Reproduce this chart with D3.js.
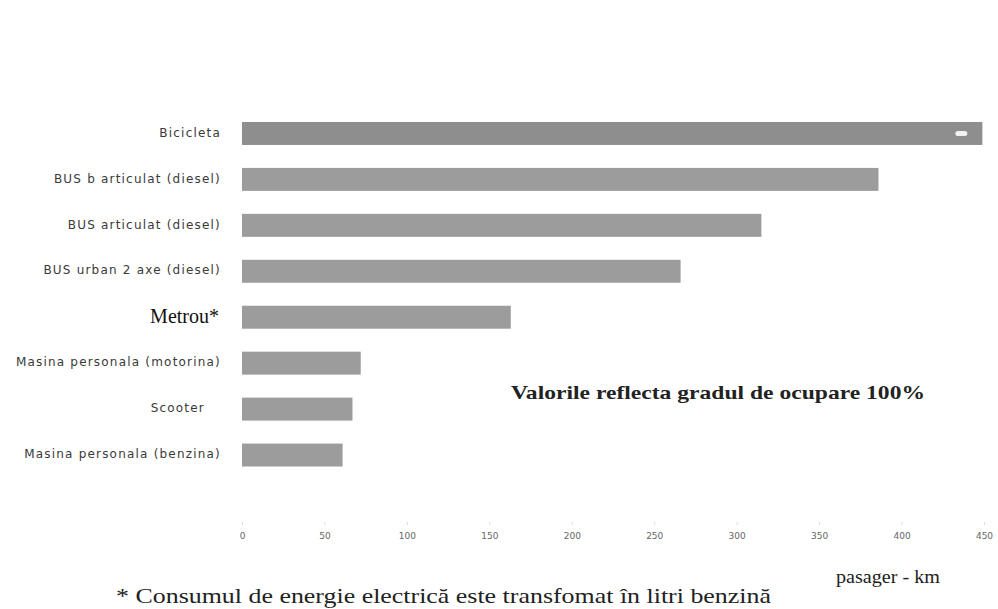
<!DOCTYPE html>
<html>
<head>
<meta charset="utf-8">
<script src="https://cdn.jsdelivr.net/npm/d3@7/dist/d3.min.js"></script>
<style>
  html, body { margin: 0; padding: 0; background: #fff; }
  svg { display: block; }
</style>
</head>
<body>
<svg id="chart" width="998" height="609"></svg>
<script>
// Energy per passenger-km by transport mode
const categories = [
  "Bicicleta",
  "BUS b articulat (diesel)",
  "BUS articulat (diesel)",
  "BUS urban 2 axe (diesel)",
  "Metrou*",
  "Masina personala (motorina)",
  "Scooter",
  "Masina personala (benzina)"
];
const values = [449, 386, 315, 266, 163, 72, 67, 61];
const tickValues = [0, 50, 100, 150, 200, 250, 300, 350, 400, 450];

const svg = d3.select("#chart");

const x = d3.scaleLinear().domain([0, 450]).range([242, 984]);
const y = d3.scaleBand().domain(categories).range([110.5, 478]).paddingInner(0.5).paddingOuter(0.25);

// bars
svg.append("g").selectAll("rect")
  .data(categories)
  .join("rect")
  .attr("x", x(0))
  .attr("y", d => y(d))
  .attr("width", (d, i) => x(values[i]) - x(0))
  .attr("height", y.bandwidth())
  .attr("fill", (d, i) => i === 0 ? "#8e8e8e" : "#9c9c9c");

// small highlight at the end of the first bar
svg.append("rect")
  .attr("x", x(values[0]) - 27)
  .attr("y", y(categories[0]) + y.bandwidth() / 2 - 2.5)
  .attr("width", 12).attr("height", 5).attr("rx", 2.5)
  .attr("fill", "#f2f2f2");

// category labels
svg.append("g").selectAll("text")
  .data(categories)
  .join("text")
  .attr("x", d => d === "Metrou*" ? 219 : (d === "Scooter" ? 205 : 221))
  .attr("y", d => y(d) + y.bandwidth() / 2 - 1)
  .attr("dy", "0.35em")
  .attr("text-anchor", "end")
  .style("font-family", d => d === "Metrou*" ? "'Liberation Serif', serif" : "'DejaVu Sans', sans-serif")
  .style("font-size", d => d === "Metrou*" ? "20px" : "12px")
  .style("letter-spacing", d => d === "Metrou*" ? "0px" : "1.2px")
  .style("fill", d => d === "Metrou*" ? "#111" : "#3a3a3a")
  .text(d => d);

// x axis
const xAxis = d3.axisBottom(x).tickValues(tickValues).tickSize(3).tickPadding(8).tickFormat(d3.format("d"));
const gx = svg.append("g").attr("transform", "translate(0,522)").call(xAxis);
gx.select(".domain").remove();
gx.selectAll(".tick line").attr("stroke", "#ddd");
gx.selectAll(".tick text")
  .style("font-family", "'DejaVu Sans', sans-serif")
  .style("font-size", "9px")
  .style("fill", "#666");

// annotation
svg.append("text")
  .attr("x", 511).attr("y", 399)
  .style("font-family", "'Liberation Serif', serif")
  .style("font-weight", "bold")
  .style("font-size", "19px")
  .style("fill", "#222")
  .attr("textLength", 414)
  .attr("lengthAdjust", "spacingAndGlyphs")
  .text("Valorile reflecta gradul de ocupare 100%");

// axis unit
svg.append("text")
  .attr("x", 836).attr("y", 583)
  .style("font-family", "'Liberation Serif', serif")
  .style("font-size", "19px")
  .style("fill", "#222")
  .attr("textLength", 104)
  .attr("lengthAdjust", "spacingAndGlyphs")
  .text("pasager - km");

// footnote
svg.append("text")
  .attr("x", 116).attr("y", 603)
  .style("font-family", "'Liberation Serif', serif")
  .style("font-size", "21px")
  .style("fill", "#222")
  .attr("textLength", 655)
  .attr("lengthAdjust", "spacingAndGlyphs")
  .text("* Consumul de energie electrică este transfomat în litri benzină");
</script>
</body>
</html>
